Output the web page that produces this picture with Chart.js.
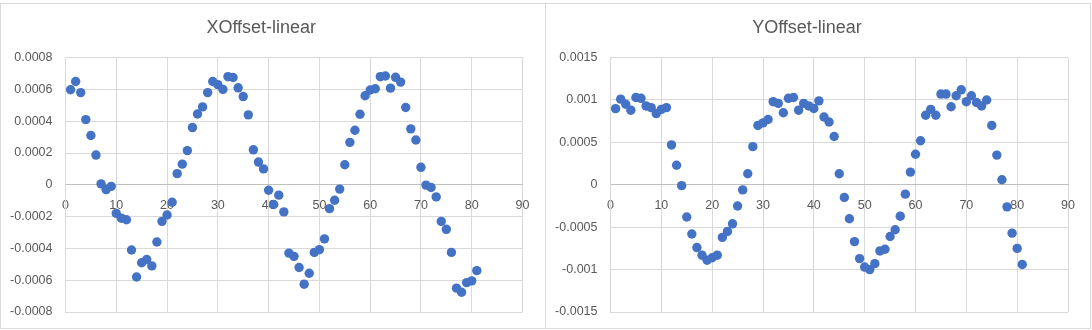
<!DOCTYPE html>
<html>
<head>
<meta charset="utf-8">
<script src="https://cdn.jsdelivr.net/npm/chart.js@4/dist/chart.umd.min.js"></script>
<style>
  body { margin: 0; background: #ffffff; }
  .wrap { position: relative; width: 1092px; height: 330px; overflow: hidden; }
  canvas { position: absolute; top: 0; }
  #cx { left: 0; }
  #cy { left: 546px; }
  .frame { position: absolute; top: 3px; height: 324px; border: 1px solid #d9d9d9; pointer-events: none; }
</style>
</head>
<body>
<div class="wrap">
  <canvas id="cx" width="546" height="330"></canvas>
  <canvas id="cy" width="546" height="330"></canvas>
  <div class="frame" style="left:0px;width:544px;"></div>
  <div class="frame" style="left:545px;width:544px;"></div>
</div>
<script>
// sample index 1..81
var frames = [];
for (var i = 1; i <= 81; i++) frames.push(i);

// X offset
var xOffset = [
  0.000598, 0.00065, 0.00058, 0.00041, 0.00031, 0.000187, 0.000006, -0.00003, -0.00001, -0.00018,
  -0.00021, -0.00022, -0.00041, -0.00058, -0.00049, -0.00047, -0.00051, -0.00036, -0.00023, -0.00019,
  -0.00011, 0.00007, 0.00013, 0.000215, 0.00036, 0.000445, 0.00049, 0.00058, 0.00065, 0.00063,
  0.0006, 0.00068, 0.000675, 0.00061, 0.000555, 0.00044, 0.00022, 0.000143, 0.0001, -0.000034,
  -0.000124, -0.000065, -0.00017, -0.00043, -0.00045, -0.00052, -0.000625, -0.000556, -0.000425, -0.000408,
  -0.00034, -0.00015, -0.000097, -0.000027, 0.000126, 0.000267, 0.000343, 0.000444, 0.00056, 0.000596,
  0.000604, 0.00068, 0.000684, 0.000608, 0.000676, 0.000646, 0.000486, 0.000352, 0.000282, 0.00011,
  -0.000002, -0.000017, -0.000076, -0.00023, -0.00028, -0.000425, -0.00065, -0.000676, -0.000615, -0.000604,
  -0.00054
];

// Y offset
var yOffset = [
  0.000898, 0.00101, 0.00095, 0.00088, 0.00103, 0.00102, 0.00093, 0.00091, 0.00084, 0.00089,
  0.00091, 0.00047, 0.00023, -0.00001, -0.00038, -0.00058, -0.00074, -0.00083, -0.00089, -0.00086,
  -0.00083, -0.00062, -0.00055, -0.00046, -0.00025, -0.00006, 0.00013, 0.00045, 0.0007, 0.00073,
  0.00077, 0.00098, 0.00096, 0.00085, 0.00102, 0.00103, 0.00088, 0.00096, 0.00093, 0.0009,
  0.00099, 0.0008, 0.00074, 0.00057, 0.00013, -0.00015, -0.0004, -0.00067, -0.00087, -0.00097,
  -0.001, -0.00093, -0.00078, -0.00076, -0.00061, -0.00053, -0.00037, -0.00011, 0.00015, 0.00036,
  0.00052, 0.00082, 0.00089, 0.00082, 0.00107, 0.00107, 0.00092, 0.00105, 0.00112, 0.00098,
  0.00105, 0.00097, 0.00093, 0.001, 0.0007, 0.00035, 0.00006, -0.00026, -0.00057, -0.00075,
  -0.00094
];

var xRange = [0, 90, 10];
var xOffsetRange = [-0.0008, 0.0008, 0.0002];
var yOffsetRange = [-0.0015, 0.0015, 0.0005];

var txtColor = '#595959';
var gridColor = '#d9d9d9';
var dotColor = '#4472c4';

function toPoints(vals) {
  var pts = [];
  for (var i = 0; i < vals.length; i++) {
    pts.push({ x: frames[i], y: vals[i] });
  }
  return pts;
}

function buildChart(id, title, vals, yr, plotLeft, rightPad) {
  return new Chart(document.getElementById(id), {
    type: 'scatter',
    data: {
      datasets: [{
        data: toPoints(vals),
        backgroundColor: dotColor,
        borderColor: dotColor,
        borderWidth: 0,
        pointRadius: 4.7
      }]
    },
    options: {
      responsive: false,
      animation: false,
      layout: { padding: { left: 0, right: rightPad, top: 0, bottom: 18 } },
      plugins: {
        legend: { display: false },
        tooltip: { enabled: false },
        title: {
          display: true,
          text: title,
          color: txtColor,
          font: { family: 'Liberation Sans', size: 18, weight: 'normal' },
          padding: { top: 17, bottom: 19 }
        }
      },
      scales: {
        x: {
          type: 'linear',
          position: { y: 0 },
          min: xRange[0],
          max: xRange[1],
          grid: { color: gridColor, drawTicks: false },
          border: { color: '#bfbfbf' },
          ticks: {
            stepSize: xRange[2],
            autoSkip: false,
            maxRotation: 0,
            padding: 13,
            color: txtColor,
            font: { family: 'Liberation Sans', size: 12.5 }
          }
        },
        y: {
          type: 'linear',
          min: yr[0],
          max: yr[1],
          grid: { color: gridColor, drawTicks: false },
          border: { color: gridColor },
          afterFit: function (scale) {
            scale.width = plotLeft;
            // tick padding is horizontal here, don't let it push the plot edges
            scale.paddingTop = 8;
            scale.paddingBottom = 8;
          },
          ticks: {
            stepSize: yr[2],
            padding: 13,
            color: txtColor,
            font: { family: 'Liberation Sans', size: 12.5 },
            callback: function (v) { return String(+v.toFixed(6)); }
          }
        }
      }
    }
  });
}

buildChart('cx', 'XOffset-linear', xOffset, xOffsetRange, 65.5, 23.5);
buildChart('cy', 'YOffset-linear', yOffset, yOffsetRange, 64.5, 24);
</script>
</body>
</html>
